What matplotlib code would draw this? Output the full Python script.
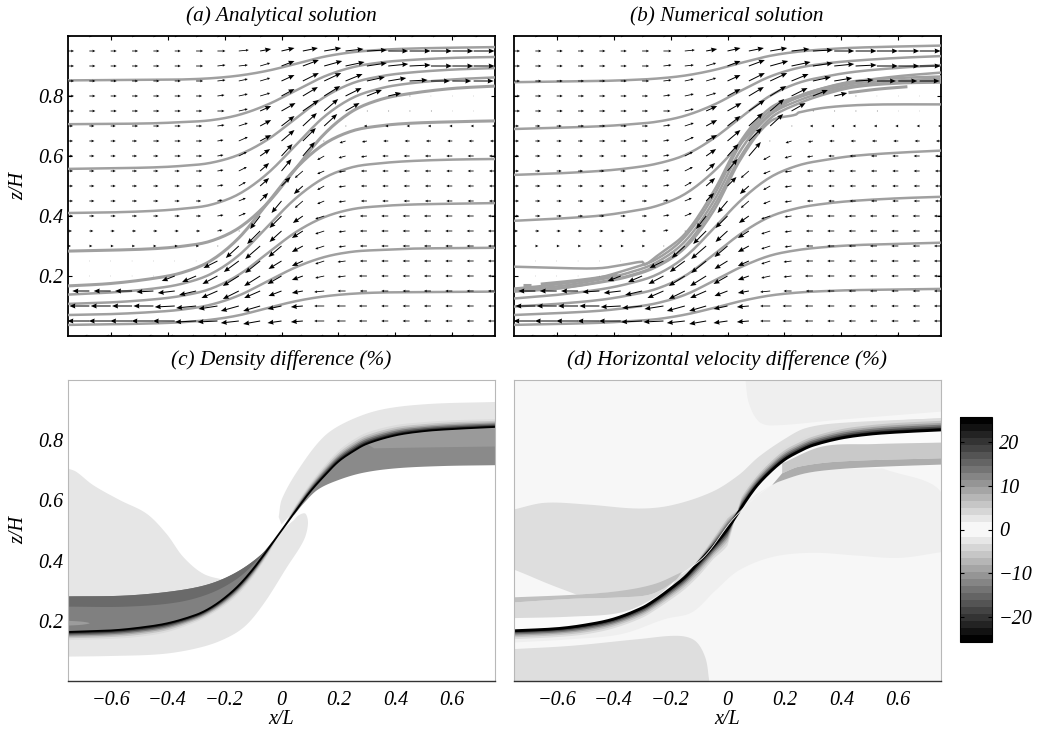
import numpy as np
import matplotlib
matplotlib.use("Agg")
import matplotlib.pyplot as plt
from matplotlib.transforms import ScaledTranslation
from matplotlib.colors import ListedColormap, BoundaryNorm
from matplotlib.cm import ScalarMappable

plt.rcParams['font.family'] = ['Liberation Serif', 'DejaVu Serif']
plt.rcParams['font.style'] = 'italic'

W, H = 1037, 731
TITLES = ["(a) Analytical solution", "(b) Numerical solution",
          "(c) Density difference (%)", "(d) Horizontal velocity difference (%)"]
XTICKS = [-0.6, -0.4, -0.2, 0, 0.2, 0.4, 0.6]
XLABELS = ["\u22120.6", "\u22120.4", "\u22120.2", "0", "0.2", "0.4", "0.6"]
ZTICKS = [0.2, 0.4, 0.6, 0.8]
ZLABELS = ["0.2", "0.4", "0.6", "0.8"]
CB_TICKS = [-20, -10, 0, 10, 20]
CB_LABELS = ["\u221220", "\u221210", "0", "10", "20"]

# ---------- velocity field, read from the arrows (pixel lengths), rows z=1.00 ... 0.00
QX = [-0.75, -0.675, -0.6, -0.525, -0.45, -0.375, -0.3, -0.225, -0.15, -0.075, 0,
      0.075, 0.15, 0.225, 0.3, 0.375, 0.45, 0.525, 0.6, 0.675, 0.75]
QZ = [1.0, 0.95, 0.9, 0.85, 0.8, 0.75, 0.7, 0.65, 0.6, 0.55, 0.5,
      0.45, 0.4, 0.35, 0.3, 0.25, 0.2, 0.15, 0.1, 0.05, 0.0]
U = [
 [3,3,3,3,3,3,3,3,3,3,4,4,4,5,5,5,5,5,5,5,5],
 [6,6,6,6,6,6,7,8,10,11,13,15,17,18,20,20,21,21,21,21,21],
 [6,6,6,6,6,6,7,8,9,10,13,16,18,19,20,20,21,21,21,21,21],
 [6,6,6,6,6,6,7,8,9,10,13,16,17,17,18,18,18,19,19,20,20],
 [6,6,6,6,6,6,6,7,9,10,13,15,16,16,15,13,1,0,0,0,1],
 [6,6,6,6,6,6,6,7,9,11,14,16,14,14,1,1,1,1,0,0,0],
 [5,5,5,6,6,6,6,7,9,11,13,14,13,1,-3,-3,-3,-3,-3,-3,-3],
 [5,5,5,5,6,6,6,6,9,11,13,13,-1,-6,-5,-5,-5,-5,-5,-5,-5],
 [5,5,5,5,5,6,6,6,8,10,11,12,-7,-7,-6,-6,-6,-6,-6,-6,-6],
 [5,5,5,5,5,5,6,6,8,9,10,-8,-7,-7,-6,-6,-6,-6,-6,-6,-6],
 [5,5,5,5,5,5,6,6,7,9,9,-9,-7,-7,-6,-6,-6,-6,-6,-6,-6],
 [5,5,5,5,5,5,5,5,7,8,-10,-8,-7,-7,-6,-6,-6,-6,-6,-6,-6],
 [5,5,5,5,5,5,5,6,7,-10,-12,-10,-9,-7,-7,-7,-7,-7,-7,-7,-7],
 [4,4,4,4,4,4,4,5,1,-13,-12,-11,-9,-7,-7,-7,-7,-7,-7,-7,-7],
 [3,3,3,3,3,3,3,1,-13,-15,-13,-11,-9,-7,-7,-7,-7,-7,-7,-7,-7],
 [0,0,0,0,0,0,0,-14,-15,-15,-13,-11,-9,-8,-7,-7,-7,-7,-7,-7,-7],
 [0,0,0,0,0,-13,-14,-15,-16,-16,-14,-11,-9,-8,-8,-7,-7,-7,-7,-7,-7],
 [-17,-17,-17,-17,-17,-17,-17,-16,-16,-16,-13,-11,-10,-8,-7,-7,-7,-7,-7,-7,-7],
 [-20,-20,-20,-20,-20,-20,-20,-19,-18,-17,-14,-12,-10,-9,-8,-7,-7,-7,-7,-7,-7],
 [-22,-22,-22,-22,-22,-22,-21,-20,-18,-17,-14,-12,-10,-9,-8,-7,-7,-7,-7,-7,-7],
 [-5,-5,-5,-5,-5,-5,-5,-5,-5,-5,-4,-4,-4,-3,-3,-3,-3,-3,-3,-3,-3],
]
V = [
 [0,0,0,0,0,0,0,0,0,0,0,0,0,0,0,0,0,0,0,0,0],
 [0,0,0,0,0,0,0,0,1,2,3,3,3,2,1,0,0,0,0,0,0],
 [0,0,0,0,0,0,0,1,1,3,5,6,5,4,3,2,1,0,0,0,0],
 [0,0,0,0,0,0,0,1,2,3,6,8,8,7,4,3,1,0,0,0,0],
 [0,0,0,0,0,0,0,1,2,3,7,9,10,8,6,3,0,0,0,0,0],
 [0,0,0,0,0,0,0,0,2,5,8,11,12,8,0,0,0,0,0,0,0],
 [0,0,0,0,0,0,0,1,3,6,10,13,12,0,0,0,0,0,0,0,0],
 [0,0,0,0,0,0,0,1,4,6,11,13,0,-2,-1,0,0,0,0,0,0],
 [0,0,0,0,0,0,0,1,4,7,12,14,-4,-2,-1,0,0,0,0,0,0],
 [0,0,0,0,0,0,0,1,4,8,12,-7,-3,-1,0,0,0,0,0,0,0],
 [0,0,0,0,0,0,0,1,4,8,9,-8,-4,-1,0,0,0,0,0,0,0],
 [0,0,0,0,0,0,0,1,3,8,-12,-7,-3,-1,0,0,0,0,0,0,0],
 [0,0,0,0,0,0,0,1,3,-13,-12,-7,-3,-1,0,0,0,0,0,0,0],
 [0,0,0,0,0,0,0,1,0,-13,-11,-7,-3,-1,0,0,0,0,0,0,0],
 [0,0,0,0,0,0,0,0,-12,-13,-11,-6,-3,-1,0,0,0,0,0,0,0],
 [0,0,0,0,0,0,0,-7,-11,-12,-8,-5,-3,-1,0,0,0,0,0,0,0],
 [0,0,0,0,0,-5,-6,-8,-10,-10,-8,-4,-2,-1,0,0,0,0,0,0,0],
 [0,0,0,0,-1,-2,-4,-7,-8,-7,-5,-2,-1,0,0,0,0,0,0,0,0],
 [0,0,0,0,0,-1,-2,-3,-5,-5,-3,-1,0,0,0,0,0,0,0,0,0],
 [0,0,0,0,0,0,-1,-1,-2,-3,-2,-1,0,0,0,0,0,0,0,0,0],
 [0,0,0,0,0,0,0,0,0,0,0,0,0,0,0,0,0,0,0,0,0],
]

# ---------- streamlines
SX = [-0.75, -0.6, -0.45, -0.35, -0.25, -0.15, -0.05, 0.05, 0.15, 0.25, 0.35, 0.45, 0.6, 0.75]
A_LINES = [
 [.037,.039,.042,.046,.054,.069,.093,.116,.132,.141,.145,.146,.147,.148],
 [.07,.073,.08,.088,.104,.135,.182,.229,.263,.281,.287,.291,.293,.294],
 [.107,.112,.122,.134,.157,.204,.275,.346,.396,.423,.433,.438,.441,.443],
 [.138,.145,.158,.174,.206,.269,.364,.459,.527,.563,.576,.583,.588,.59],
 [.167,.175,.192,.211,.25,.327,.442,.558,.64,.684,.701,.709,.714,.717],
 [.283,.286,.291,.299,.316,.36,.442,.558,.673,.75,.789,.808,.825,.833],
 [.41,.412,.417,.424,.437,.473,.541,.636,.731,.794,.826,.842,.855,.862],
 [.557,.559,.562,.567,.577,.604,.654,.725,.796,.843,.866,.878,.888,.893],
 [.706,.707,.709,.713,.719,.737,.771,.818,.865,.896,.912,.92,.927,.93],
 [.852,.853,.854,.855,.859,.868,.884,.907,.931,.946,.954,.958,.961,.963],
]
B_LINES = [
 [.037,.04,.044,.049,.056,.071,.093,.117,.135,.145,.15,.153,.155,.157],
 [.07,.076,.084,.094,.109,.137,.183,.231,.268,.287,.297,.303,.307,.311],
 [.098,.107,.12,.135,.157,.2,.27,.343,.398,.427,.442,.451,.459,.464],
 [.125,.137,.155,.174,.204,.263,.357,.455,.529,.569,.588,.601,.611,.618],
 [.148,.158,.18,.2,.234,.3,.43,.605,.725,.775,.808,.83,.842,.845],
 [.155,.165,.188,.21,.245,.315,.447,.625,.737,.785,.815,.835,.845,.851],
 [.158,.172,.195,.222,.256,.33,.465,.645,.75,.795,.822,.842,.852,.858],
 [.384,.391,.401,.414,.433,.473,.547,.646,.74,.799,.829,.848,.866,.878],
 [.537,.542,.55,.559,.574,.603,.658,.731,.801,.844,.866,.881,.894,.903],
 [.69,.694,.699,.705,.714,.734,.77,.819,.865,.894,.909,.918,.927,.933],
 [.846,.848,.85,.853,.858,.868,.886,.911,.934,.948,.956,.961,.965,.968],
]
B_KINK1_X = [-0.75,-0.6,-0.45,-0.35,-0.3,-0.29,-0.25,-0.15,-0.05,0.05,0.15,0.25,0.35,0.45,0.6,0.75]
B_KINK1_Z = [.231,.227,.226,.24,.247,.238,.265,.34,.48,.655,.76,.8,.83,.85,.86,.865]
B_KINK2_X = [-0.75,-0.6,-0.45,-0.35,-0.25,-0.15,-0.05,0.05,0.15,0.24,0.25,0.35,0.5,0.75]
B_KINK2_Z = [.15,.158,.178,.197,.23,.293,.415,.595,.715,.738,.745,.762,.771,.772]
B_FRAG_X = [[-0.72,-0.69],[-0.656,-0.52,-0.386],[0.425,0.53,0.632]]
B_FRAG_Z = [[.17,.17],[.173,.186,.203],[.811,.823,.831]]

# ---------- interfaces of the difference panels
XI = [-0.75,-0.6,-0.5,-0.4,-0.3,-0.25,-0.2,-0.15,-0.1,-0.05,0,0.05,0.1,0.15,0.2,0.25,0.3,0.4,0.5,0.6,0.75]
C_IF = [.163,.168,.177,.192,.22,.243,.276,.318,.372,.435,.50,.565,.628,.681,.729,.762,.788,.816,.830,.837,.844]
C_EN = [.136,.14,.147,.163,.196,.22,.25,.29,.345,.415,.50,.585,.655,.715,.765,.80,.825,.85,.86,.866,.87]
D_IF = [.167,.174,.186,.206,.243,.272,.307,.345,.395,.447,.505,.578,.645,.695,.735,.762,.783,.807,.82,.827,.834]
D_EN = [.139,.146,.155,.175,.21,.238,.27,.305,.35,.405,.45,.62,.685,.735,.775,.80,.82,.845,.858,.866,.873]
D_E2 = [.167,.174,.186,.206,.243,.272,.307,.345,.41,.48,.55,.578,.645,.695,.735,.762,.783,.807,.82,.827,.834]
GRAD_F = [1, .78, .6, .45, .3, .17]
GRAD_C = ['#dcdcdc', '#c4c4c4', '#a4a4a4', '#787878', '#4c4c4c', '#222222']

# panel c regions
C_BLOB_X = [-.75,-.721,-.662,-.568,-.474,-.404,-.345,-.274,-.192]
C_BLOB_Z = [.706,.695,.651,.601,.556,.489,.412,.356,.334]
C_LOW_X = [-.75,-.603,-.427,-.31,-.216,-.133,-.063,.019,.078,.093,.084,.061,.043]
C_LOW_Z = [.081,.083,.089,.106,.133,.178,.256,.378,.467,.523,.556,.551,.534]
C_UP_X = [-.01,.002,.066,.149,.231,.348,.513,.75]
C_UP_Z = [.545,.606,.712,.812,.862,.901,.92,.927]
C_RG_X = [.75,.56,.395,.278,.184,.125,.078,.043]
C_RG_Z = [.717,.714,.706,.69,.662,.634,.59,.55]
C_RL_X = [.325,.513,.75]
C_RL_Z = [.773,.776,.779]
C_ST_X = [-.75,-.545,-.368,-.251,-.157,-.075,-.028]
C_ST_Z = [.281,.284,.30,.323,.362,.417,.467]
C_SB_X = [-.75,-.545,-.368,-.251,-.157,-.086,-.028]
C_SB_Z = [.247,.247,.261,.291,.339,.40,.467]
C_EL_X = [-.75,-.70,-.674,-.70,-.75]
C_EL_Z = [.20,.197,.192,.187,.184]

# panel d regions
D_TR_X = [.063,.075,.11,.157,.392,.75]
D_TR_Z = [1.0,.923,.862,.849,.868,.895]
D_ML_X = [.75,.603,.451,.298,.157,.039,-.043,-.125,-.219,-.372,-.548,-.75]
D_ML_Z = [.428,.409,.417,.426,.412,.367,.30,.228,.206,.156,.139,.128]
D_MT_X = [.1,.18,.274,.392,.545]
D_MT_Z = [.62,.662,.69,.704,.706]
D_BL_X = [-.75,-.548,-.313,-.172,-.113,-.078,-.064]
D_BL_Z = [.106,.117,.139,.15,.133,.078,0]
D_LM_X = [-.75,-.642,-.489,-.313,-.196,-.055,.039,.11,.204,.274,.392,.75]
D_LM_Z = [.57,.592,.586,.573,.584,.628,.684,.745,.806,.84,.857,.873]
D_LE_X = [-.53,-.63,-.713,-.75]
D_LE_Z = [.287,.323,.356,.37]
D_STT_X = [-.75,-.53,-.372,-.254,-.16]
D_STT_Z = [.278,.287,.30,.323,.362]
D_STB_X = [-.75,-.548,-.372,-.266,-.184,-.16]
D_STB_Z = [.261,.273,.278,.289,.334,.362]
D_LB_X = [-.75,-.548,-.372,-.254,-.184]
D_LB_Z = [.209,.214,.228,.278,.334]
D_RCT_X = [.192,.333,.51,.75]
D_RCT_Z = [.723,.779,.787,.792]
D_RCB_X = [.192,.251,.392,.75]
D_RCB_Z = [.69,.712,.729,.74]
D_RAB_X = [.157,.18,.274,.392,.545,.75]
D_RAB_Z = [.651,.662,.69,.704,.712,.719]
D_TL_X = [-.16,-.078,.016,.086,.145]
D_TL_Z = [.356,.417,.534,.60,.645]

CB_LEVELS = [round(-25.6 + 1.6 * i, 1) for i in range(33)]


def axes_px(fig, l, t, r, b):
    return fig.add_axes([l / W, 1 - b / H, (r - l) / W, (b - t) / H])


def crv(xs, zs, n=10):
    """Smooth drawing of a read boundary (chord-parameter cubic through the read points)."""
    p = np.column_stack([xs, zs]).astype(float)
    if len(p) < 3:
        return p[:, 0], p[:, 1]
    d = np.maximum(np.hypot(*np.diff(p, axis=0).T), 1e-6)
    t = np.r_[0, np.cumsum(d)]
    m = np.zeros_like(p)
    m[1:-1] = (p[2:] - p[:-2]) / (t[2:] - t[:-2])[:, None]
    m[0] = (p[1] - p[0]) / d[0]
    m[-1] = (p[-1] - p[-2]) / d[-1]
    out = [p[:1]]
    u = np.linspace(0, 1, n + 1)[1:, None]
    for i in range(len(p) - 1):
        h = d[i]
        out.append((2*u**3 - 3*u**2 + 1) * p[i] + (u**3 - 2*u**2 + u) * h * m[i]
                   + (-2*u**3 + 3*u**2) * p[i + 1] + (u**3 - u**2) * h * m[i + 1])
    o = np.vstack(out)
    return o[:, 0], o[:, 1]


def poly(ax, segs, color, z=1):
    X, Z = [], []
    for sx, sz in segs:
        a, b = crv(sx, sz)
        X.append(a)
        Z.append(b)
    ax.fill(np.concatenate(X), np.concatenate(Z), color=color, lw=0, zorder=z)


def stream(ax, xs, zs, lw=1.8):
    a, b = crv(xs, zs)
    ax.plot(a, b, color='#a0a0a0', lw=lw, zorder=3, solid_capstyle='butt')


def base(ax, xl=False, yl=False):
    ax.set_xlim(-0.75, 0.75)
    ax.set_ylim(0, 1)
    ax.set_xticks(XTICKS)
    ax.set_yticks(ZTICKS)
    ax.set_xticklabels(XLABELS if xl else [])
    ax.set_yticklabels(ZLABELS if yl else [])
    ax.tick_params(labelsize=14.5)
    ax.tick_params(axis='x', pad=7)
    ax.tick_params(axis='y', pad=3)
    if xl:
        off = ScaledTranslation(-6.5 / 100, 0, ax.figure.dpi_scale_trans)
        for lab, s in zip(ax.get_xticklabels(), XLABELS):
            if s.startswith("\u2212"):
                lab.set_transform(lab.get_transform() + off)


def field(ax):
    qx, qz = np.meshgrid(QX, QZ)
    uu, vv = np.array(U, float), np.array(V, float)
    long_ = np.hypot(uu, vv) >= 11
    common = dict(angles='uv', units='dots', scale_units='dots', scale=1, pivot='tail',
                  color='black', zorder=4)
    ax.quiver(qx[long_], qz[long_], uu[long_], vv[long_], width=1.0, headwidth=5, headlength=6,
              headaxislength=5.5, minshaft=1, **common)
    short = ~long_
    ax.quiver(qx[short], qz[short], uu[short], vv[short], width=0.8, headwidth=3.4, headlength=3.6,
              headaxislength=3.2, minshaft=1, minlength=0.6, **common)


def top_frame(ax):
    for s in ax.spines.values():
        s.set_linewidth(1.3)
        s.set_color('black')
    ax.tick_params(direction='in', length=3, width=0.8, top=True, right=True)


def low_frame(ax):
    for s in ('left', 'top', 'right'):
        ax.spines[s].set_color('#b8b8b8')
        ax.spines[s].set_linewidth(0.8)
    ax.spines['bottom'].set_color('#333333')
    ax.spines['bottom'].set_linewidth(1.0)
    ax.tick_params(length=0)
    for s in ax.spines.values():
        s.set_zorder(10)


def gradient(ax, iface, env):
    xa, ia = crv(XI, iface)
    xb, ib = crv(XI, env)
    for f, c in zip(GRAD_F, GRAD_C):
        e = ia + f * (ib - ia)
        ax.fill(np.r_[xa, xa[::-1]], np.r_[ia, e[::-1]], color=c, lw=0, zorder=5)


fig = plt.figure(figsize=(W / 100, H / 100), dpi=100)
ax_a = axes_px(fig, 68, 36, 495, 336)
ax_b = axes_px(fig, 514, 36, 941, 336)
ax_c = axes_px(fig, 68, 380, 495, 681)
ax_d = axes_px(fig, 514, 380, 941, 681)
cax = axes_px(fig, 960, 417, 992, 642)

# panel a
base(ax_a, yl=True)
top_frame(ax_a)
for k, line in enumerate(A_LINES):
    stream(ax_a, SX, line, lw=2.2 if k in (4, 5) else 1.8)
field(ax_a)

# panel b
base(ax_b)
top_frame(ax_b)
for line in B_LINES:
    stream(ax_b, SX, line)
stream(ax_b, B_KINK1_X, B_KINK1_Z)
stream(ax_b, B_KINK2_X, B_KINK2_Z)
for fx, fz in zip(B_FRAG_X, B_FRAG_Z):
    stream(ax_b, fx, fz, lw=2.2)
field(ax_b)

# panel c
base(ax_c, xl=True, yl=True)
low_frame(ax_c)
poly(ax_c, [(C_BLOB_X, C_BLOB_Z), ([-.192, -.75], [.25, .25])], '#e6e6e6')
poly(ax_c, [(C_LOW_X, C_LOW_Z), (XI[10::-1], C_IF[10::-1])], '#e6e6e6')
poly(ax_c, [(C_UP_X, C_UP_Z), (XI[:10:-1], C_IF[:10:-1]), ([.04, 0], [.56, .52])], '#e6e6e6')
poly(ax_c, [(XI[11:], C_IF[11:]), (C_RG_X, C_RG_Z)], '#8a8a8a', z=2)
poly(ax_c, [(C_RL_X, C_RL_Z), (XI[:15:-1], C_IF[:15:-1])], '#9a9a9a', z=2)
poly(ax_c, [(C_ST_X, C_ST_Z), (XI[9::-1], C_IF[9::-1])], '#808080', z=2)
poly(ax_c, [(C_ST_X, C_ST_Z), (C_SB_X[::-1], C_SB_Z[::-1])], '#6a6a6a', z=3)
poly(ax_c, [(C_EL_X, C_EL_Z)], '#9c9c9c', z=3)
gradient(ax_c, C_IF, C_EN)
a_, b_ = crv(XI, C_IF)
ax_c.plot(a_, b_, color='black', lw=1.3, zorder=6)

# panel d
base(ax_d, xl=True)
low_frame(ax_d)
ax_d.set_facecolor('#f7f7f7')
poly(ax_d, [(D_TR_X, D_TR_Z), ([.75, .75, .063], [.895, 1.0, 1.0])], '#efefef')
poly(ax_d, [([.545, .75, .75], [.706, .628, .428]), (D_ML_X, D_ML_Z), (XI[:12], D_IF[:12]), (D_MT_X, D_MT_Z)], '#efefef')
poly(ax_d, [(D_BL_X, D_BL_Z), ([-.064, -.75], [0, 0])], '#dedede')
poly(ax_d, [(D_LM_X, D_LM_Z), (XI[:5:-1], D_IF[:5:-1]), (D_LE_X, D_LE_Z)], '#dedede')
poly(ax_d, [(D_LB_X, D_LB_Z), (XI[6::-1], D_IF[6::-1])], '#fbfbfb', z=2)
poly(ax_d, [(D_STB_X, D_STB_Z), (D_LB_X[::-1], D_LB_Z[::-1])], '#dadada', z=2)
poly(ax_d, [(D_STT_X, D_STT_Z), (D_STB_X[::-1], D_STB_Z[::-1])], '#c0c0c0', z=3)
poly(ax_d, [(XI[12:], D_IF[12:]), (D_RCT_X[::-1], D_RCT_Z[::-1])], '#fbfbfb', z=2)
poly(ax_d, [(D_RCT_X, D_RCT_Z), (D_RCB_X[::-1], D_RCB_Z[::-1])], '#c9c9c9', z=3)
poly(ax_d, [(D_RCB_X, D_RCB_Z), (D_RAB_X[::-1], D_RAB_Z[::-1])], '#adadad', z=3)
gradient(ax_d, D_IF, D_EN)
gradient(ax_d, D_IF, D_E2)
a_, b_ = crv(XI, D_IF)
ax_d.plot(a_, b_, color='black', lw=2.0, zorder=6)
a_, b_ = crv(D_TL_X, D_TL_Z)
ax_d.plot(a_, b_, color='#f4f4f4', lw=0.6, zorder=7)

# colour bar
mid = 0.5 * (np.array(CB_LEVELS[:-1]) + np.array(CB_LEVELS[1:]))
grays = [max(0.0, min(1.0, 1 - abs(m) / 25)) for m in mid]
cmap = ListedColormap([(g, g, g) for g in grays])
norm = BoundaryNorm(CB_LEVELS, cmap.N)
cb = fig.colorbar(ScalarMappable(norm=norm, cmap=cmap), cax=cax, ticks=CB_TICKS, spacing='proportional')
cb.set_ticklabels(CB_LABELS)
cb.minorticks_off()
cb.outline.set_linewidth(0.8)
cax.tick_params(direction='in', length=3, width=0.8, labelsize=14.5, pad=5, left=True, right=True)

# text
for t, cx, by in zip(TITLES, (281, 727, 281, 727), (21, 21, 365, 365)):
    fig.text(cx / W, 1 - by / H, t, ha='center', va='baseline', fontsize=15.3, style='italic')
fig.text(19 / W, 1 - 186 / H, 'z/H', rotation=90, ha='center', va='center', fontsize=14.5)
fig.text(19 / W, 1 - 530 / H, 'z/H', rotation=90, ha='center', va='center', fontsize=14.5)
fig.text(281 / W, 1 - 720 / H, 'x/L', ha='center', va='center', fontsize=14.5)
fig.text(727 / W, 1 - 720 / H, 'x/L', ha='center', va='center', fontsize=14.5)

fig.savefig('out.png', dpi=100, facecolor='white')
